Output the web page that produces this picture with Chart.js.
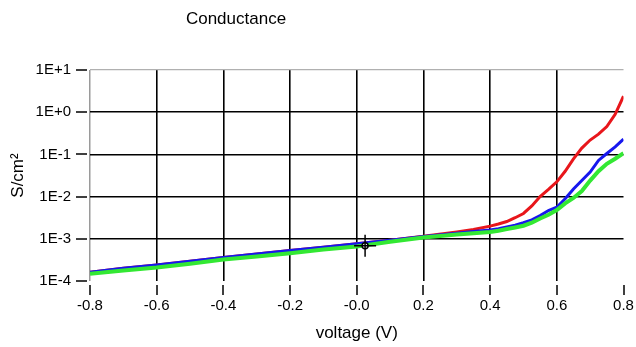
<!DOCTYPE html>
<html>
<head>
<meta charset="utf-8">
<script src="https://cdn.jsdelivr.net/npm/chart.js@4.4.0/dist/chart.umd.min.js"></script>
<style>
  body { margin: 0; background: #fff; }
  .wrap { position: relative; width: 636px; height: 347px; }
  .title {
    position: absolute; left: 0; top: 8px; width: 472px;
    text-align: center; font: 17px "Liberation Sans", Arial, sans-serif;
    line-height: 22px; color: #000;
  }
</style>
</head>
<body>
<div class="wrap">
  <div class="title">Conductance</div>
  <canvas class="canvas" width="636" height="347"></canvas>
</div>
<script>
// voltage (V)
var voltage = [-0.8, -0.7, -0.6, -0.5, -0.4, -0.3, -0.2, -0.1, 0.0, 0.1, 0.2, 0.3, 0.35, 0.4,
  0.425, 0.45, 0.475, 0.5, 0.525, 0.55, 0.575, 0.6, 0.625, 0.65, 0.675, 0.7, 0.725, 0.75, 0.775, 0.8]

// conductance (S/cm2)
var redSeries = [1.62e-4, 2.0e-4, 2.4e-4, 2.95e-4, 3.63e-4, 4.37e-4, 5.25e-4, 6.3e-4, 7.6e-4, 9.3e-4, 1.15e-3,
  1.45e-3, 1.66e-3, 2.0e-3, 2.24e-3, 2.57e-3, 3.16e-3, 3.98e-3, 6.0e-3, 1.0e-2, 1.48e-2, 2.24e-2,
  3.98e-2, 7.8e-2, 0.141, 0.219, 0.302, 0.457, 0.89, 2.4]
var blueSeries = [1.62e-4, 2.0e-4, 2.4e-4, 2.95e-4, 3.63e-4, 4.37e-4, 5.25e-4, 6.3e-4, 7.6e-4, 9.3e-4, 1.13e-3,
  1.35e-3, 1.48e-3, 1.62e-3, 1.74e-3, 1.9e-3, 2.09e-3, 2.4e-3, 2.82e-3, 3.55e-3, 4.68e-3, 5.6e-3,
  8.9e-3, 1.51e-2, 2.4e-2, 3.8e-2, 7.2e-2, 0.105, 0.151, 0.229]
var greenSeries = [1.48e-4, 1.78e-4, 2.09e-4, 2.57e-4, 3.24e-4, 3.8e-4, 4.57e-4, 5.6e-4, 6.6e-4, 8.5e-4, 1.07e-3,
  1.26e-3, 1.35e-3, 1.45e-3, 1.55e-3, 1.7e-3, 1.86e-3, 2.04e-3, 2.4e-3, 3.02e-3, 3.72e-3, 4.8e-3,
  6.9e-3, 9.3e-3, 1.35e-2, 2.4e-2, 3.98e-2, 6.0e-2, 7.9e-2, 0.107]

// cursor marker
var cursorPoint = { x: 0.025, y: 6.8e-4 }

var xTicks = [-0.8, -0.6, -0.4, -0.2, 0.0, 0.2, 0.4, 0.6, 0.8]
var xTickLabels = ['-0.8', '-0.6', '-0.4', '-0.2', '-0.0', '0.2', '0.4', '0.6', '0.8']
var yTicks = [1e-4, 1e-3, 1e-2, 1e-1, 1, 10]
var yTickLabels = ['1E-4', '1E-3', '1E-2', '1E-1', '1E+0', '1E+1']

function pts(ys) {
  return voltage.map((v, i) => ({ x: v, y: ys[i] }))
}

// short tick dashes, a little away from the plot area
var tickMarks = {
  id: 'tickMarks',
  afterDraw(chart) {
    var ctx = chart.ctx
    var xs = chart.scales.x, ys = chart.scales.y
    var area = chart.chartArea
    ctx.save()
    ctx.strokeStyle = '#000'
    ctx.lineWidth = 1.5
    ctx.beginPath()
    yTicks.forEach(v => {
      var y = Math.round(ys.getPixelForValue(v))
      ctx.moveTo(area.left - 14, y)
      ctx.lineTo(area.left - 3, y)
    })
    xTicks.forEach(v => {
      var x = Math.round(xs.getPixelForValue(v))
      ctx.moveTo(x, area.bottom + 4)
      ctx.lineTo(x, area.bottom + 14)
    })
    ctx.stroke()
    ctx.restore()
  }
}

Chart.defaults.font.family = '"Liberation Sans", Arial, sans-serif'
Chart.defaults.color = '#000'

var ctx = document.querySelector('.canvas').getContext('2d')
var myChart = new Chart(ctx, {
  type: 'line',
  data: {
    datasets: [{
      data: [cursorPoint],
      showLine: false,
      pointStyle: 'cross',
      pointRadius: 11,
      borderColor: '#000',
      borderWidth: 1.5
    }, {
      data: [cursorPoint],
      showLine: false,
      pointStyle: 'circle',
      pointRadius: 3,
      backgroundColor: '#fff',
      borderColor: '#000',
      borderWidth: 1.5
    }, {
      label: 'green',
      data: pts(greenSeries),
      borderColor: '#33e833',
      borderWidth: 4,
      pointRadius: 0,
      fill: false
    }, {
      label: 'blue',
      data: pts(blueSeries),
      borderColor: '#1717ee',
      borderWidth: 3,
      pointRadius: 0,
      fill: false
    }, {
      label: 'red',
      data: pts(redSeries),
      borderColor: '#e8161b',
      borderWidth: 3,
      pointRadius: 0,
      fill: false
    }]
  },
  options: {
    responsive: false,
    animation: false,
    layout: { padding: { top: 70, right: 5, left: 0, bottom: 0 } },
    plugins: { legend: { display: false }, tooltip: { enabled: false } },
    scales: {
      x: {
        type: 'linear',
        min: -0.8,
        max: 0.8,
        afterBuildTicks: s => { s.ticks = xTicks.map(v => ({ value: v })) },
        afterFit: s => { s.height = 66 },
        border: { display: false },
        grid: {
          color: c => c.index === 0 ? '#9a9a9a' : (c.index === xTicks.length - 1 ? 'rgba(0,0,0,0)' : '#000'),
          lineWidth: c => c.index === 0 ? 1.5 : 1.6,
          drawTicks: true,
          tickLength: 14,
          tickColor: 'rgba(0,0,0,0)'
        },
        ticks: {
          autoSkip: false,
          maxRotation: 0,
          padding: 2,
          font: { size: 15 },
          callback: (v, i) => xTickLabels[i]
        },
        title: {
          display: true,
          text: 'voltage (V)',
          font: { size: 17 },
          padding: { top: 0, bottom: 3 }
        }
      },
      y: {
        type: 'logarithmic',
        min: 1e-4,
        max: 10,
        afterBuildTicks: s => { s.ticks = yTicks.map(v => ({ value: v })) },
        afterFit: s => { s.width = 90 },
        border: { display: false },
        grid: {
          color: c => c.index === yTicks.length - 1 ? '#b0b0b0' : (c.index === 0 ? 'rgba(0,0,0,0)' : '#000'),
          lineWidth: c => c.index === yTicks.length - 1 ? 1.2 : 1.6,
          drawTicks: true,
          tickLength: 15,
          tickColor: 'rgba(0,0,0,0)'
        },
        ticks: {
          autoSkip: false,
          padding: 4,
          font: { size: 15 },
          callback: (v, i) => yTickLabels[i]
        },
        title: {
          display: true,
          text: 'S/cm²',
          font: { size: 17 },
          padding: { top: 8, bottom: 0 }
        }
      }
    }
  },
  plugins: [tickMarks]
})
</script>
</body>
</html>
